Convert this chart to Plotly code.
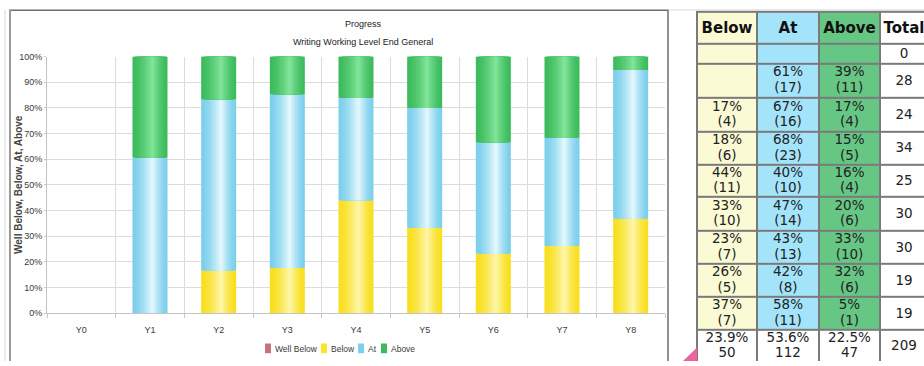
import plotly.graph_objects as go

# ---- data -------------------------------------------------------------
years = ["Y0", "Y1", "Y2", "Y3", "Y4", "Y5", "Y6", "Y7", "Y8"]
well_below_n = [0, 0, 0, 0, 0, 0, 0, 0, 0]
below_n = [0, 0, 4, 6, 11, 10, 7, 5, 7]
at_n = [0, 17, 16, 23, 10, 14, 13, 8, 11]
above_n = [0, 11, 4, 5, 4, 6, 10, 6, 1]
totals = [0, 28, 24, 34, 25, 30, 30, 19, 19]
y_ticks = list(range(0, 101, 10))

title_text = "Progress"
subtitle_text = "Writing Working Level End General"
y_title = "Well Below, Below, At, Above"
table_headers = ["Below", "At", "Above", "Total"]
legend_names = ["Well Below", "Below", "At", "Above"]

W, H = 924, 366


def px(x):
    return x / W


def py(y):
    return 1 - y / H


def pct(counts):
    return [100.0 * c / t if t else 0.0 for c, t in zip(counts, totals)]


p_below = pct(below_n)
p_at = pct(at_n)
p_above = pct(above_n)
base_at = p_below
base_above = [a + b for a, b in zip(p_below, p_at)]

CHART_FONT = "Liberation Sans, Arial"
TEXT_COL = "#3a3a3a"


def hex_to_rgb(h):
    h = h.lstrip("#")
    return tuple(int(h[i:i + 2], 16) for i in (0, 2, 4))


def mix(c1, c2, f):
    a, b = hex_to_rgb(c1), hex_to_rgb(c2)
    return "rgb(%d,%d,%d)" % tuple(round(a[i] + (b[i] - a[i]) * f) for i in range(3))


fig = go.Figure()

# ---- stacked bars with a cylindrical shading --------------------------
BAR_W = 0.51
N_STRIPES = 16
SHIFT = 0.07 * BAR_W
series = [
    ("Below", p_below, [0.0] * len(years), "#f8df1e", "#fff7b4"),
    ("At", p_at, base_at, "#7ccfeb", "#ecfbff"),
    ("Above", p_above, base_above, "#3dbb5d", "#86e8a0"),
]
for name, vals, base, edge, light in series:
    for k in range(N_STRIPES):
        t = k / N_STRIPES
        w = BAR_W * (1 - t)
        fig.add_trace(go.Bar(
            x=years, y=vals, base=base,
            width=[w] * len(years),
            offset=[-w / 2 + SHIFT * t] * len(years),
            marker=dict(color=mix(edge, light, t ** 1.5), line=dict(width=0)),
            name=name, showlegend=False, hoverinfo="skip",
            xaxis="x", yaxis="y",
        ))

# ---- summary table -----------------------------------------------------
col_edges = [697, 757, 819, 880, 928]
row_edges = [7, 40, 60, 95, 130, 164, 197, 232, 266, 300, 334, 370]
col_codes = [1, 2, 3, 0]  # yellow, blue, green, white
n_rows = len(row_edges) - 1
z = []
for r in range(n_rows):
    if r == n_rows - 1:
        z.append([0, 0, 0, 0])
    else:
        z.append(col_codes[:])
fills = ["#ffffff", "#fafad4", "#a3e4fb", "#66c684"]
colorscale = []
for i, c in enumerate(fills):
    colorscale += [[i / 4, c], [(i + 1) / 4, c]]
fig.add_trace(go.Heatmap(
    x=col_edges, y=row_edges, z=z, zmin=-0.5, zmax=3.5,
    colorscale=colorscale, showscale=False, xgap=2, ygap=2,
    hoverinfo="skip", xaxis="x2", yaxis="y2",
))

col_mid = [(col_edges[i] + col_edges[i + 1]) / 2 for i in range(4)]
row_mid = [(row_edges[i] + row_edges[i + 1]) / 2 for i in range(n_rows)]

# header labels
fig.add_trace(go.Scatter(
    x=col_mid, y=[row_mid[0] + 1] * 4, mode="text",
    text=["<b>%s</b>" % h for h in table_headers],
    textfont=dict(family="DejaVu Sans", size=15, color="#111"),
    hoverinfo="skip", showlegend=False, xaxis="x2", yaxis="y2",
))

tx, ty, tt = [], [], []
for i in range(len(years)):
    yc = row_mid[i + 1]
    for j, counts in enumerate([below_n, at_n, above_n]):
        if counts[i] > 0:
            p = 100.0 * counts[i] / totals[i]
            tx += [col_mid[j], col_mid[j]]
            ty += [yc - 7.5, yc + 8.5]
            tt += ["%d%%" % round(p), "(%d)" % counts[i]]
    tx.append(col_mid[3])
    ty.append(yc + 1)
    tt.append(str(totals[i]))

grand = sum(totals)
yc = row_mid[-1]
for j, counts in enumerate([below_n, at_n, above_n]):
    s = sum(counts)
    tx += [col_mid[j], col_mid[j]]
    ty += [yc - 9, yc + 6.5]
    tt += ["%.1f%%" % (100.0 * s / grand), str(s)]
tx.append(col_mid[3])
ty.append(yc - 1)
tt.append(str(grand))

fig.add_trace(go.Scatter(
    x=tx, y=ty, mode="text", text=tt,
    textfont=dict(family="DejaVu Sans", size=13.5, color="#222"),
    hoverinfo="skip", showlegend=False, xaxis="x2", yaxis="y2",
))

shapes = [
    # table grid colour showing through the cell gaps
    dict(type="rect", xref="x2", yref="y2", x0=696, x1=930, y0=6, y1=372,
         fillcolor="#7a7a7a", line=dict(width=0), layer="below"),
    # chart frame
    dict(type="line", xref="paper", yref="paper", x0=px(5), x1=px(5), y0=py(5), y1=0,
         line=dict(color="#dedede", width=1.2)),
    dict(type="line", xref="paper", yref="paper", x0=px(668), x1=px(924), y0=py(5), y1=py(5),
         line=dict(color="#e2e2e2", width=1.2)),
    dict(type="line", xref="paper", yref="paper", x0=px(9), x1=px(668), y0=py(5.5), y1=py(5.5),
         line=dict(color="#6e6e6e", width=1.5)),
    dict(type="line", xref="paper", yref="paper", x0=px(10), x1=px(10), y0=py(5), y1=0,
         line=dict(color="#9a9a9a", width=2)),
    dict(type="line", xref="paper", yref="paper", x0=px(668), x1=px(668), y0=py(5), y1=0,
         line=dict(color="#6e6e6e", width=1.5)),
    # pink corner marker
    dict(type="path", xref="paper", yref="paper",
         path="M %f,%f L %f,%f L %f,%f Z" % (px(683), py(366), px(697), py(352), px(697), py(366)),
         fillcolor="#ef63a3", line=dict(width=0)),
]

# legend swatches
legend_cols = ["#c6737c", "#fbe52c", "#7fd0ec", "#3fb95d"]
legend_x = [265, 321, 358, 381]
annotations = []
for name, col, lx in zip(legend_names, legend_cols, legend_x):
    shapes.append(dict(type="rect", xref="paper", yref="paper",
                       x0=px(lx), x1=px(lx + 6), y0=py(358), y1=py(348),
                       fillcolor=col, line=dict(width=0)))
    annotations.append(dict(x=px(lx + 8), y=py(353.5), xref="paper", yref="paper",
                            text=name, showarrow=False, xanchor="left", yanchor="middle",
                            font=dict(family=CHART_FONT, size=8.5, color=TEXT_COL)))

annotations += [
    dict(x=px(363), y=py(20), xref="paper", yref="paper", text=title_text,
         showarrow=False, xanchor="center", yanchor="middle",
         font=dict(family=CHART_FONT, size=9, color="#222")),
    dict(x=px(363), y=py(38), xref="paper", yref="paper", text=subtitle_text,
         showarrow=False, xanchor="center", yanchor="middle",
         font=dict(family=CHART_FONT, size=9, color="#222")),
    dict(x=px(19), y=py(185), xref="paper", yref="paper", text="<b>%s</b>" % y_title,
         showarrow=False, textangle=-90, xanchor="center", yanchor="middle",
         font=dict(family=CHART_FONT, size=10, color="#444")),
]

fig.update_layout(
    width=W, height=H, margin=dict(l=0, r=0, t=0, b=0),
    paper_bgcolor="white", plot_bgcolor="white",
    barmode="overlay", showlegend=False,
    shapes=shapes, annotations=annotations,
    xaxis=dict(
        domain=[px(47), px(665)], anchor="y",
        type="category", categoryorder="array", categoryarray=years,
        range=[-0.5, len(years) - 0.5],
        tickson="boundaries", ticks="outside", ticklen=4, tickcolor="#c8c8c8",
        ticklabelstandoff=8,
        showgrid=True, gridcolor="#dcdcdc", gridwidth=1,
        showline=True, linecolor="#c4c4c4", linewidth=1,
        tickfont=dict(family=CHART_FONT, size=9, color=TEXT_COL),
        fixedrange=True, zeroline=False,
    ),
    yaxis=dict(
        domain=[py(317), py(53)], anchor="x",
        range=[0, 100], tickvals=y_ticks, ticktext=["%d%%" % v for v in y_ticks],
        showgrid=True, gridcolor="#dcdcdc", gridwidth=1,
        showline=True, linecolor="#c4c4c4", linewidth=1,
        ticks="outside", ticklen=2, tickcolor="#c8c8c8",
        tickfont=dict(family=CHART_FONT, size=9, color=TEXT_COL),
        fixedrange=True, zeroline=False,
    ),
    xaxis2=dict(domain=[px(680), 1], anchor="y2", range=[680, 924],
                visible=False, fixedrange=True),
    yaxis2=dict(domain=[0, 1], anchor="x2", range=[366, 0],
                visible=False, fixedrange=True),
)

fig.write_html("out.html")
